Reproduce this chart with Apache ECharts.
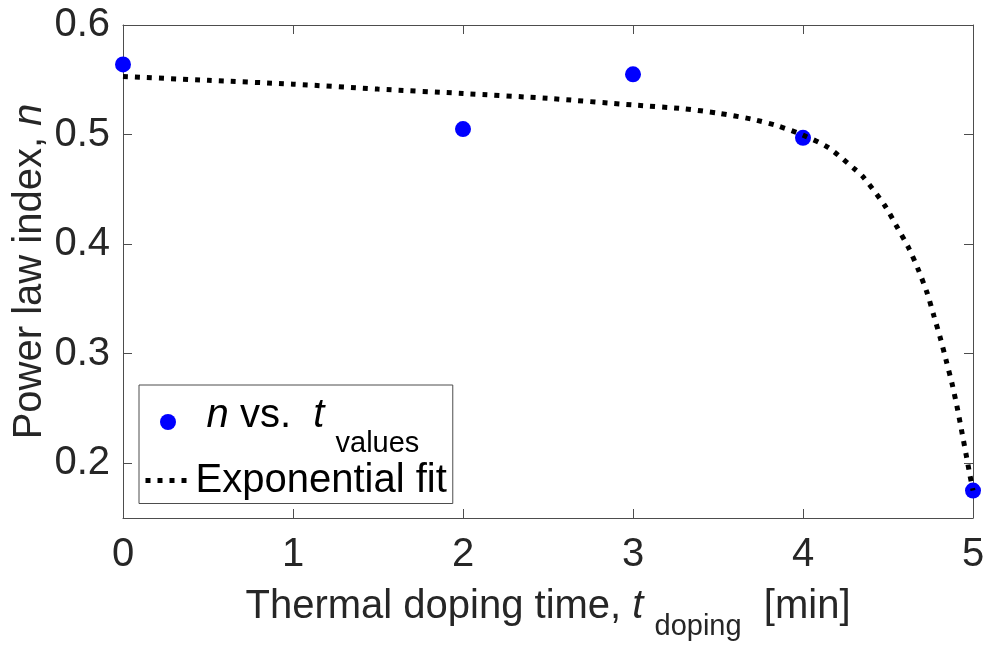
<!DOCTYPE html>
<html><head><meta charset="utf-8">
<script src="https://cdn.jsdelivr.net/npm/echarts@6/dist/echarts.min.js"></script>
<style>html,body{margin:0;padding:0;background:#fff}#c{width:989px;height:646px}</style>
</head><body><div id="c"></div>
<script>
// ---- data ----
const timeMin = [0, 2, 3, 4, 5];
const powerIndex = [0.564, 0.505, 0.555, 0.497, 0.175];
const fitTime = [0, 0.5, 1, 1.5, 2, 2.5, 3, 3.3, 3.5, 3.7, 3.85, 4, 4.15, 4.3, 4.35, 4.48, 4.55, 4.62, 4.68, 4.73, 4.77, 4.81, 4.845, 4.88, 4.91, 4.937, 4.963, 4.982, 5];
const fitIndex = [0.553, 0.5495, 0.546, 0.5415, 0.5375, 0.533, 0.527, 0.5235, 0.5195, 0.514, 0.508, 0.4995, 0.488, 0.469, 0.462, 0.4355, 0.4165, 0.397, 0.376, 0.3555, 0.3345, 0.313, 0.292, 0.2705, 0.2485, 0.2265, 0.205, 0.189, 0.175];
const yTicks = [0.2, 0.3, 0.4, 0.5, 0.6];
const xTicks = [0, 1, 2, 3, 4, 5];
const seriesNames = ['n vs. t values', 'Exponential fit'];

const FONT = '"Liberation Sans", Arial, Helvetica, sans-serif';
const AX = '#4d4d4d';
const TXT = '#262626';
const FS = 40;
const SUB = 29;
const LH = 40;

const chart = echarts.init(document.getElementById('c'), null, {renderer: 'canvas'});

const xBase = {
  type: 'value', min: xTicks[0], max: xTicks[xTicks.length - 1], interval: 1,
  splitLine: {show: false},
  axisLine: {show: true, onZero: false, lineStyle: {color: AX, width: 1}},
  axisTick: {show: true, inside: true, length: 9, lineStyle: {color: AX, width: 1}}
};
const yBase = {
  type: 'value', min: 0.15, max: 0.6,
  splitLine: {show: false},
  axisLine: {show: true, onZero: false, lineStyle: {color: AX, width: 1}},
  axisTick: {show: true, inside: true, length: 9, customValues: yTicks, lineStyle: {color: AX, width: 1}}
};

const option = {
  animation: false,
  backgroundColor: '#fff',
  textStyle: {fontFamily: FONT},
  grid: {left: 123, right: 16, top: 25, bottom: 128, containLabel: false, outerBoundsMode: 'none'},
  xAxis: [
    Object.assign({}, xBase, {
      position: 'bottom',
      axisLabel: {show: true, margin: 17, fontSize: FS, color: TXT, fontFamily: FONT, formatter: v => String(v)},
      name: '{m|Thermal doping time, }{i|t}{m| }{sub|doping}{m|  [min]}',
      nameLocation: 'middle', nameGap: 69,
      nameTextStyle: {
        color: TXT, fontFamily: FONT, fontSize: FS, lineHeight: LH,
        rich: {
          m: {fontSize: FS, lineHeight: LH, color: TXT, fontFamily: FONT},
          i: {fontSize: FS, lineHeight: LH, color: TXT, fontFamily: FONT, fontStyle: 'italic'},
          sub: {fontSize: SUB, lineHeight: LH, color: TXT, fontFamily: FONT, padding: [20, 0, -20, 0]}
        }
      }
    }),
    Object.assign({}, xBase, {position: 'top', axisLabel: {show: false}})
  ],
  yAxis: [
    Object.assign({}, yBase, {
      position: 'left',
      axisLabel: {show: true, margin: 13, fontSize: FS, color: TXT, fontFamily: FONT, customValues: yTicks, formatter: v => v.toFixed(1)},
      name: '{m|Power law index, }{i|n}',
      nameLocation: 'middle', nameGap: 73, nameMoveOverlap: false,
      nameTextStyle: {
        color: TXT, fontFamily: FONT, fontSize: FS, lineHeight: LH,
        rich: {
          m: {fontSize: FS, lineHeight: LH, color: TXT, fontFamily: FONT},
          i: {fontSize: FS, lineHeight: LH, color: TXT, fontFamily: FONT, fontStyle: 'italic'}
        }
      }
    }),
    Object.assign({}, yBase, {position: 'right', axisLabel: {show: false}})
  ],
  legend: {
    orient: 'vertical', left: 139, top: 385,
    padding: [11, 6, 3, 4], itemGap: 2, itemWidth: 45, itemHeight: 16,
    borderColor: AX, borderWidth: 1, backgroundColor: '#fff',
    lineStyle: {width: 5, type: [5, 7], cap: 'butt', color: '#000'},
    data: [
      {name: seriesNames[0], icon: 'circle'},
      {name: seriesNames[1], itemStyle: {opacity: 0}}
    ],
    textStyle: {
      fontFamily: FONT, fontSize: FS, color: '#000', lineHeight: LH,
      rich: {
        m: {fontSize: FS, lineHeight: LH, color: '#000', fontFamily: FONT, padding: [-6, 0, 6, 0]},
        i: {fontSize: FS, lineHeight: LH, color: '#000', fontFamily: FONT, fontStyle: 'italic', padding: [-6, 0, 6, 0]},
        sub: {fontSize: SUB, lineHeight: LH, color: '#000', fontFamily: FONT, padding: [22, 0, -22, 0]}
      }
    },
    formatter: name => name === seriesNames[0]
      ? '{m| }{i|n}{m| vs.  }{i|t}{m| }{sub|values}'
      : name
  },
  series: [
    {
      name: seriesNames[0], type: 'scatter',
      data: timeMin.map((t, i) => [t, powerIndex[i]]),
      symbol: 'circle', symbolSize: 16, clip: false,
      itemStyle: {color: '#0000ff', opacity: 1}
    },
    {
      name: seriesNames[1], type: 'line',
      data: fitTime.map((t, i) => [t, fitIndex[i]]),
      showSymbol: false, symbol: 'none', smooth: 0.25, clip: false,
      lineStyle: {color: '#000', width: 5, type: [5, 7], cap: 'butt'},
      itemStyle: {color: 'rgba(0,0,0,0)'}
    }
  ]
};
chart.setOption(option);
</script>
</body></html>
